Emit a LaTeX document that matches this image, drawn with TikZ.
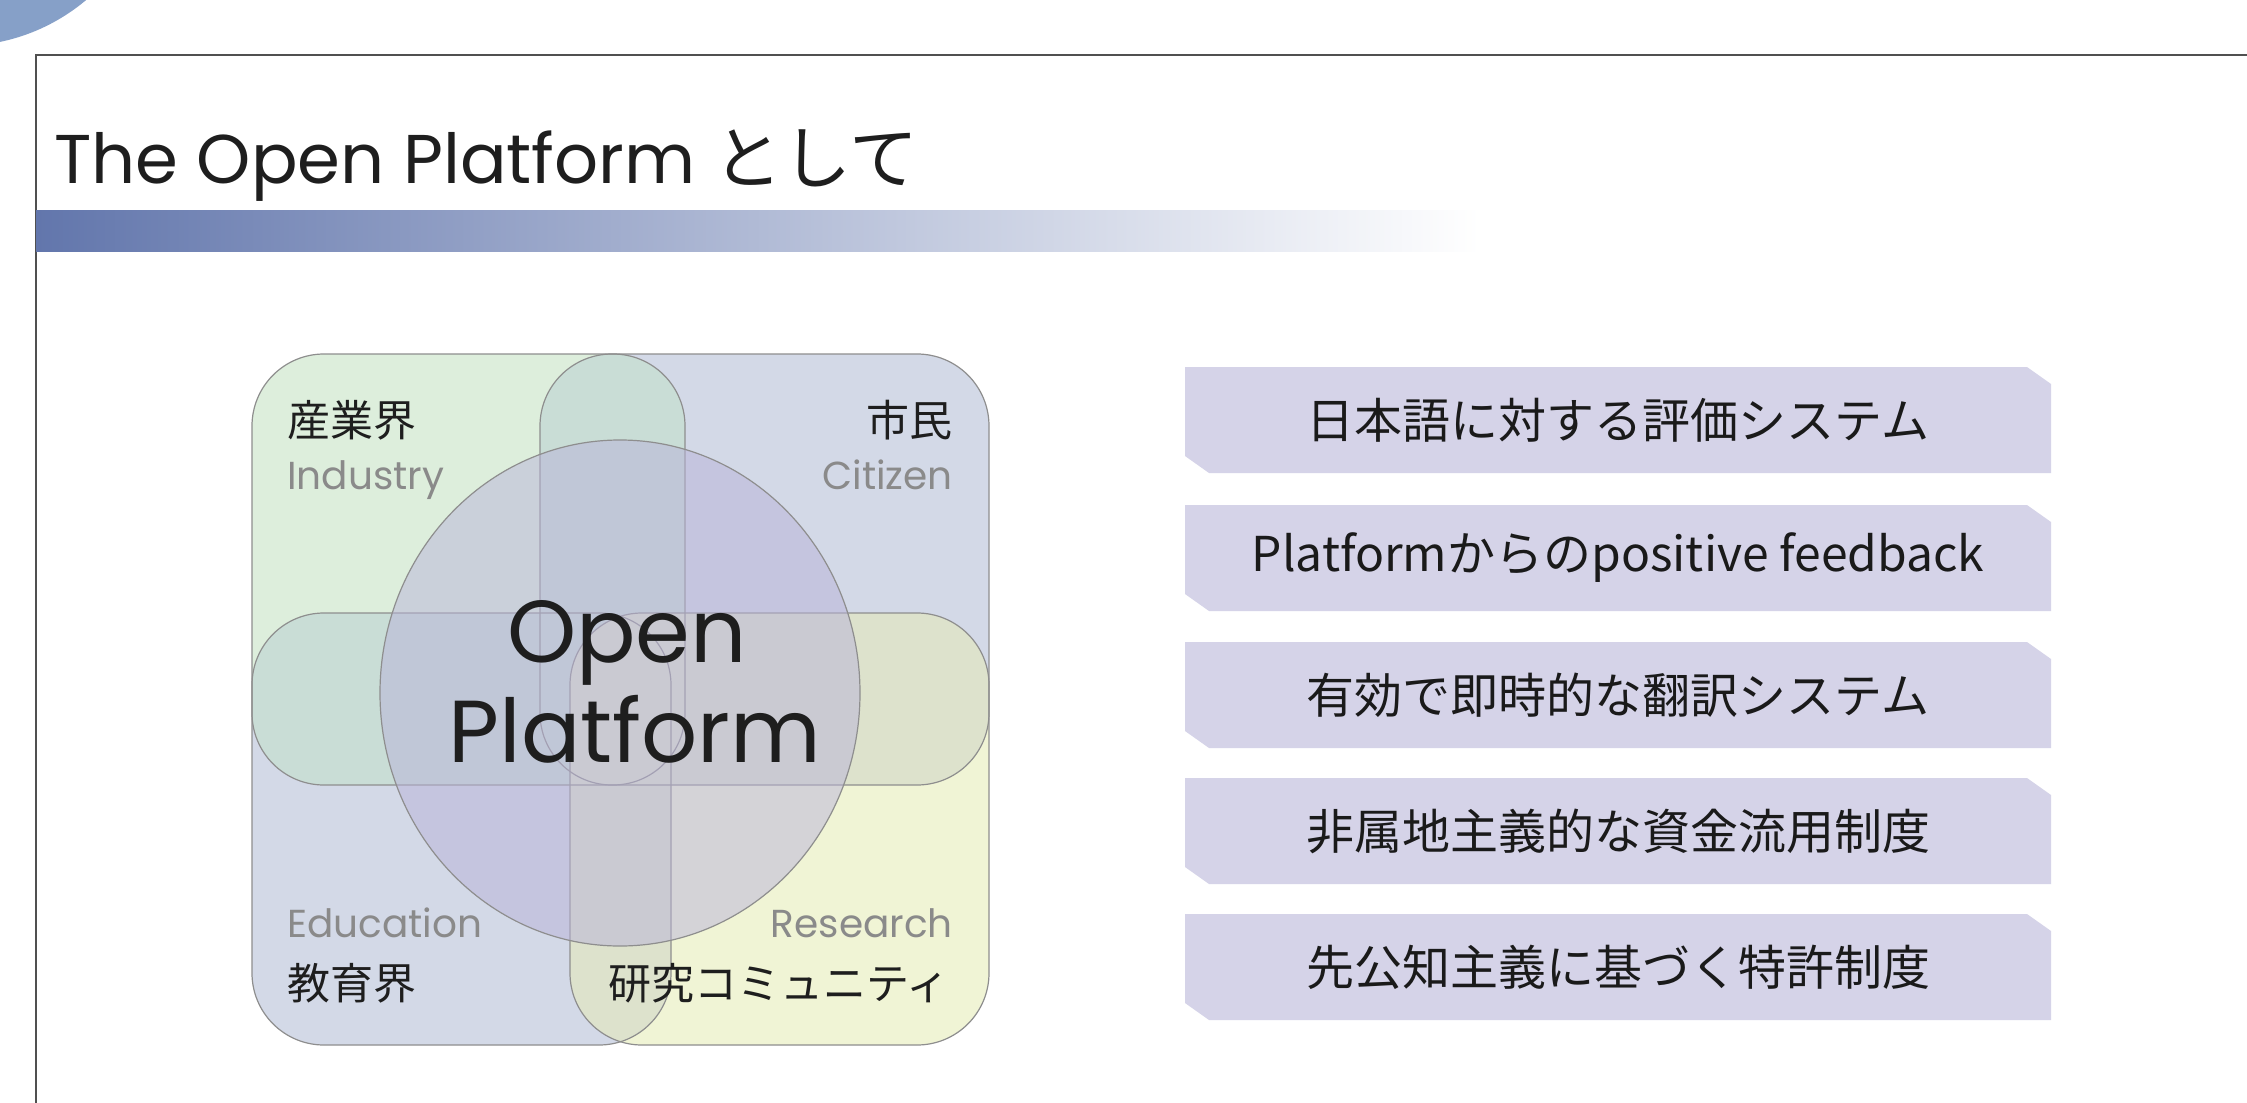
\documentclass[tikz,border=0pt]{standalone}
\usepackage{fontspec}
\setmainfont{Poppins}
\newfontfamily\jp{Noto Sans CJK JP}
\definecolor{topblue}{HTML}{86A0C8}
\definecolor{framec}{HTML}{505050}
\definecolor{barblue}{HTML}{6276AC}
\definecolor{titlec}{HTML}{1E1E1E}
\definecolor{indg}{HTML}{DDEEDC}
\definecolor{citb}{HTML}{D3D9E7}
\definecolor{resy}{HTML}{F0F4D5}
\definecolor{ovg}{HTML}{C9DDD6}
\definecolor{ovy}{HTML}{DDE2CC}
\definecolor{ovc}{HTML}{CBD5D2}
\definecolor{edge}{HTML}{8E8E8E}
\definecolor{lav}{HTML}{B9B3D9}
\definecolor{latgray}{HTML}{8A8A8A}
\definecolor{boxc}{HTML}{D5D3E8}
\definecolor{boxtext}{HTML}{1A1A1A}
\tikzset{
  quad/.style={rounded corners=72},
  edgeline/.style={draw=edge, line width=1.2},
  jplabel/.style={inner sep=0, font=\jp\fontsize{43}{50}\selectfont, text=titlec},
  enlabel/.style={inner sep=0, font=\fontsize{39}{48}\selectfont, text=latgray},
  snipbox/.style={minimum width=866, minimum height=106, inner sep=0,
    font=\jp\fontsize{48}{56}\selectfont, text=boxtext,
    path picture={\fill[boxc] (path picture bounding box.north west)
      -- ([xshift=-24pt]path picture bounding box.north east)
      -- ([yshift=-17pt]path picture bounding box.north east)
      -- (path picture bounding box.south east)
      -- ([xshift=24pt]path picture bounding box.south west)
      -- ([yshift=17pt]path picture bounding box.south west) -- cycle;}},
}
\begin{document}
\begin{tikzpicture}[x=1pt,y=-1pt]
\useasboundingbox (0,0) rectangle (2247,1103);
\fill[white] (0,0) rectangle (2247,1103);
% corner decoration
\fill[topblue] (-40,-150) circle (196);
% frame
\draw[framec, line width=2.5] (36,1110) -- (36,55) -- (2260,55);
% gradient bar
\shade[left color=barblue, right color=white] (36,210) rectangle (1480,251);
% title
\node[anchor=base west, inner sep=0, font=\fontsize{69}{78}\selectfont, text=titlec] (title) at (54,183) {The Open Platform {\jp として}};

% venn quadrants
\fill[quad, indg] (252,354) rectangle (685,785);
\fill[quad, citb] (540,354) rectangle (989,785);
\fill[quad, citb] (252,613) rectangle (671,1045);
\fill[quad, resy] (570,613) rectangle (989,1045);
\begin{scope}
  \clip[quad] (252,354) rectangle (685,785);
  \fill[quad, ovg] (540,354) rectangle (989,785);
  \fill[quad, ovg] (252,613) rectangle (671,1045);
  \fill[quad, ovc] (570,613) rectangle (989,1045);
\end{scope}
\begin{scope}
  \clip[quad] (540,354) rectangle (989,785);
  \fill[quad, ovy] (570,613) rectangle (989,1045);
\end{scope}
\begin{scope}
  \clip[quad] (252,613) rectangle (671,1045);
  \fill[quad, ovy] (570,613) rectangle (989,1045);
\end{scope}
\draw[quad, edgeline] (252,354) rectangle (685,785);
\draw[quad, edgeline] (540,354) rectangle (989,785);
\draw[quad, edgeline] (252,613) rectangle (671,1045);
\draw[quad, edgeline] (570,613) rectangle (989,1045);
% central circle
\path[fill=lav, fill opacity=0.5, edgeline] (620,693) ellipse [x radius=240, y radius=253];

% labels
\node[jplabel, anchor=west] (ind) at (287,420) {産業界};
\node[enlabel, anchor=base west] (indE) at (287,489) {Industry};
\node[jplabel, anchor=east] (cit) at (953,420) {市民};
\node[enlabel, anchor=base east] (citE) at (953,489) {Citizen};
\node[enlabel, anchor=base west] (eduE) at (287,937) {Education};
\node[jplabel, anchor=west] (edu) at (287,983) {教育界};
\node[enlabel, anchor=base east] (resE) at (953,937) {Research};
\node[jplabel, anchor=east] (res) at (950,983) {研究コミュニティ};
\node[inner sep=0, anchor=base, font=\fontsize{88}{100}\selectfont, text=titlec] (open) at (627,662) {Open};
\node[inner sep=0, anchor=base, font=\fontsize{88}{100}\selectfont, text=titlec] (plat) at (635,762) {Platform};

% right boxes
\node[snipbox] (b1) at (1618,420) {日本語に対する評価システム};
\node[snipbox] (b2) at (1618,558) {Platformからのpositive feedback};
\node[snipbox] (b3) at (1618,695) {有効で即時的な翻訳システム};
\node[snipbox] (b4) at (1618,831) {非属地主義的な資金流用制度};
\node[snipbox] (b5) at (1618,967) {先公知主義に基づく特許制度};
\end{tikzpicture}
\end{document}
